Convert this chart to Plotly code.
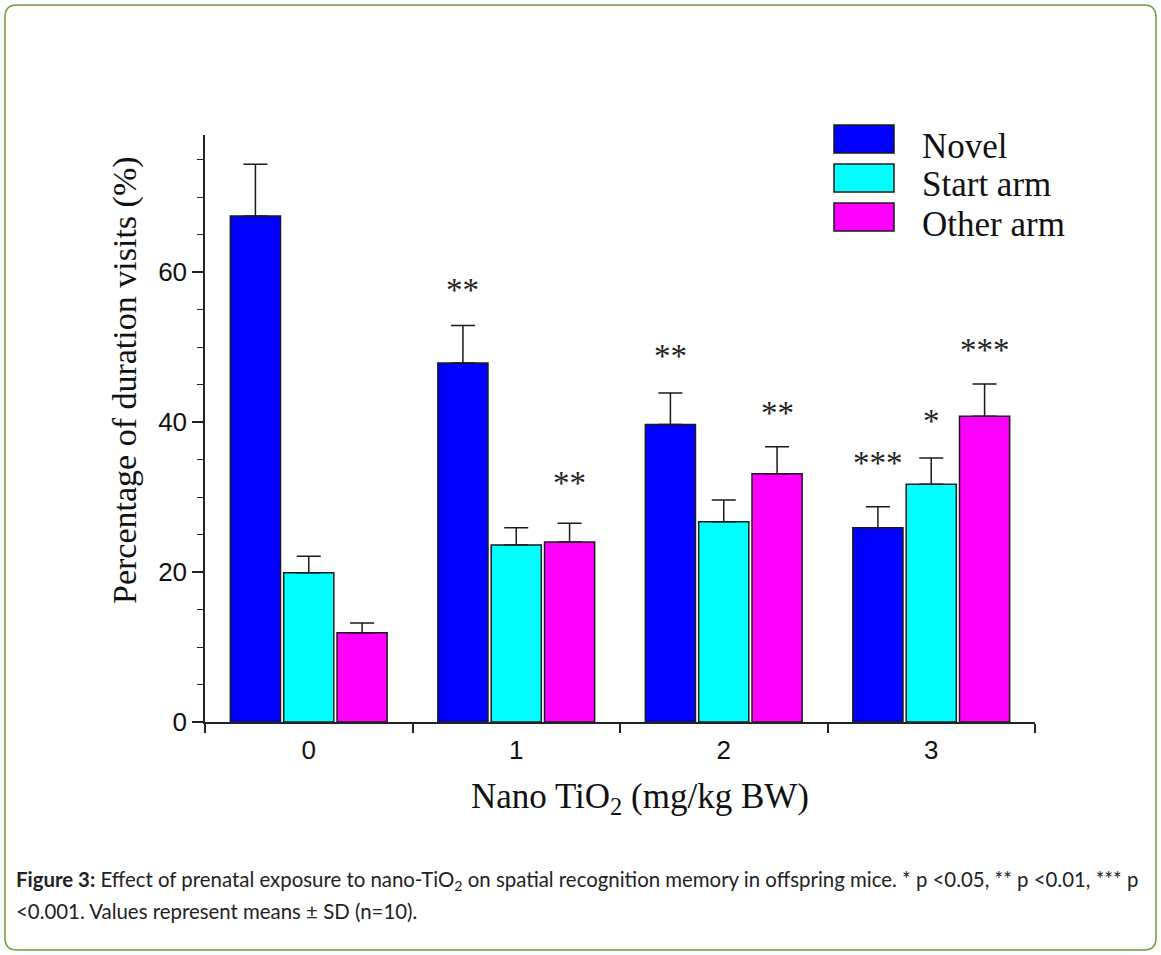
import plotly.graph_objects as go

doses = [0, 1, 2, 3]
dose_labels = ["0", "1", "2", "3"]
series_names = ["Novel", "Start arm", "Other arm"]
novel = [67.5, 47.9, 39.7, 25.9]
novel_sd = [6.9, 5.0, 4.2, 2.8]
start_arm = [19.9, 23.6, 26.7, 31.7]
start_sd = [2.2, 2.3, 2.9, 3.5]
other_arm = [11.9, 24.0, 33.1, 40.8]
other_sd = [1.3, 2.5, 3.6, 4.3]
colors = ["#0000FF", "#00FFFF", "#FF00FF"]

# significance marks: (dose, series index, text, y position)
sig_dose = [1, 1, 2, 2, 3, 3, 3]
sig_series = [0, 2, 0, 2, 0, 1, 2]
sig_text = ["**", "**", "**", "**", "***", "*", "***"]
sig_y = [57.6, 31.9, 48.8, 41.2, 34.5, 40.1, 49.6]

W, H = 1161, 955
L, R, T, B = 205, 1035, 135, 722  # plot area in pixels
YMAX = 78.3


def px(x):
    return (x - L) / (R - L)


def py(y):
    return (B - y) / (B - T)


fig = go.Figure()
vals = [novel, start_arm, other_arm]
sds = [novel_sd, start_sd, other_sd]
for name, v, sd, c in zip(series_names, vals, sds, colors):
    fig.add_trace(go.Bar(
        x=doses, y=v, name=name,
        marker=dict(color=c, line=dict(color="#1a1a1a", width=1.5)),
        error_y=dict(type="data", array=sd, arrayminus=[0] * len(sd), symmetric=False,
                     color="#1a1a1a", thickness=1.5, width=12),
        showlegend=False,
    ))

bargap = 1 - 160 / 207.5
slot = 1 - bargap
offsets = [-slot / 3, 0, slot / 3]
for d, s, t, yv in zip(sig_dose, sig_series, sig_text, sig_y):
    fig.add_annotation(x=d + offsets[s], y=yv, text=t, showarrow=False,
                       xref="x", yref="y",
                       font=dict(family="Liberation Serif", size=33, color="#222222"))

# legend drawn manually
leg_y = [139, 178, 217]
for name, c, cy in zip(series_names, colors, leg_y):
    fig.add_shape(type="rect", xref="paper", yref="paper",
                  x0=px(834), x1=px(894), y0=py(cy - 14), y1=py(cy + 14),
                  fillcolor=c, line=dict(color="#1a1a1a", width=1.5))
    fig.add_annotation(xref="paper", yref="paper", x=px(920), y=py(cy + 7),
                       text=name, showarrow=False, xanchor="left", yanchor="middle",
                       font=dict(family="Liberation Serif", size=35, color="#111111"))

# axis titles
fig.add_annotation(xref="paper", yref="paper", x=px(104), y=py(380),
                   text="Percentage of duration visits (%)", textangle=-90,
                   showarrow=False, font=dict(family="Liberation Serif", size=34, color="#111111"))
fig.add_annotation(xref="paper", yref="paper", x=px(640), y=py(822),
                   text="Nano TiO<sub>2</sub> (mg/kg BW)",
                   showarrow=False, font=dict(family="Liberation Serif", size=35, color="#111111"))

# caption
fig.add_annotation(xref="paper", yref="paper", x=px(14), y=py(880), xanchor="left", yanchor="middle",
                   text="<b>Figure 3:</b> Effect of prenatal exposure to nano-TiO<sub>2</sub> on spatial recognition memory in offspring mice. * p &lt;0.05, ** p &lt;0.01, *** p",
                   showarrow=False, align="left",
                   font=dict(family="Lato", size=20.4, color="#222222"))
fig.add_annotation(xref="paper", yref="paper", x=px(14), y=py(911), xanchor="left", yanchor="middle",
                   text="&lt;0.001. Values represent means ± SD (n=10).",
                   showarrow=False, align="left",
                   font=dict(family="Lato", size=20.4, color="#222222"))

# rounded green border
x0, x1, y0, y1, r = 5, 1156, 5, 950, 12
path = (f"M {px(x0 + r)},{py(y0)} L {px(x1 - r)},{py(y0)} "
        f"Q {px(x1)},{py(y0)} {px(x1)},{py(y0 + r)} L {px(x1)},{py(y1 - r)} "
        f"Q {px(x1)},{py(y1)} {px(x1 - r)},{py(y1)} L {px(x0 + r)},{py(y1)} "
        f"Q {px(x0)},{py(y1)} {px(x0)},{py(y1 - r)} L {px(x0)},{py(y0 + r)} "
        f"Q {px(x0)},{py(y0)} {px(x0 + r)},{py(y0)} Z")
fig.add_shape(type="path", xref="paper", yref="paper", path=path,
              line=dict(color="#6a9f3a", width=1.5), layer="below")

fig.update_layout(
    width=W, height=H,
    margin=dict(l=L, r=W - R, t=T, b=H - B),
    paper_bgcolor="white", plot_bgcolor="white",
    barmode="group", bargap=bargap, bargroupgap=0.06,
)
fig.update_xaxes(
    range=[-0.5, 3.5], tickvals=doses, ticktext=dose_labels, ticks="",
    showline=True, linecolor="#222222", linewidth=1.5, showgrid=False, zeroline=False,
    tickfont=dict(family="Liberation Sans", size=26, color="#111111"),
    minor=dict(tick0=-0.5, dtick=1, ticks="outside", ticklen=9, tickcolor="#222222", tickwidth=1.5),
    ticklabelstandoff=4,
)
fig.update_yaxes(
    range=[0, YMAX], tickvals=[0, 20, 40, 60], ticks="outside", ticklen=11,
    tickcolor="#222222", tickwidth=1.5,
    showline=True, linecolor="#222222", linewidth=1.5, showgrid=False, zeroline=False,
    tickfont=dict(family="Liberation Sans", size=26, color="#111111"),
    minor=dict(dtick=5, ticks="outside", ticklen=6, tickcolor="#222222", tickwidth=1.2),
)

fig.write_html("out.html", config={"displayModeBar": False},
               post_script="document.body.style.margin='0';document.body.style.overflow='hidden';")
